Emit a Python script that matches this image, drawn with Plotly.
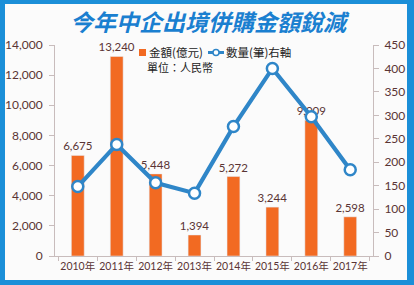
import plotly.graph_objects as go

years = ["2010年", "2011年", "2012年", "2013年", "2014年", "2015年", "2016年", "2017年"]
amounts = [6675, 13240, 5448, 1394, 5272, 3244, 9009, 2598]
counts = [148, 238, 156, 134, 276, 400, 297, 184]
amount_labels = ["6,675", "13,240", "5,448", "1,394", "5,272", "3,244", "9,009", "2,598"]
left_ticks = [0, 2000, 4000, 6000, 8000, 10000, 12000, 14000]
right_ticks = [0, 50, 100, 150, 200, 250, 300, 350, 400, 450]

W, H = 414, 285
ML, MR, MT, MB = 55, 41, 45, 29
PW, PH = W - ML - MR, H - MT - MB

def px(x):
    return (x - ML) / PW

def py(y):
    return (H - MB - y) / PH

txt = "#5a3434"
font = "Lato, 'Noto Sans CJK TC', sans-serif"
cjk = "'Noto Sans CJK TC', sans-serif"
blue = "#2f86c8"
orange = "#f26a22"

fig = go.Figure()
fig.add_trace(go.Bar(
    x=years, y=amounts, name="金額(億元)", marker_color=orange,
    width=0.33, text=amount_labels, textposition="outside", constraintext="none",
    textfont=dict(size=11.5, color=txt, family=font), cliponaxis=False,
    yaxis="y",
))
fig.add_trace(go.Scatter(
    x=years, y=counts, name="數量(筆)右軸", mode="lines+markers",
    line=dict(color=blue, width=4.2),
    marker=dict(size=11, color="white", line=dict(color=blue, width=2.5)),
    yaxis="y2", cliponaxis=False,
))

fig.update_layout(
    width=W, height=H,
    margin=dict(l=ML, r=MR, t=MT, b=MB, autoexpand=False),
    paper_bgcolor="#1b8fd8",
    plot_bgcolor="rgba(0,0,0,0)",
    font=dict(family=font, size=11, color=txt),
    showlegend=False,
    xaxis=dict(showgrid=False, showline=True, linecolor="#c8bcbc", linewidth=1,
               ticks="outside", ticklen=4, tickcolor="#c8bcbc", tickson="boundaries",
               tickangle=0, automargin=False,
               tickfont=dict(size=10.5, color=txt, family=font), fixedrange=True),
    yaxis=dict(range=[0, 14000], tickvals=left_ticks, tickformat=",", showgrid=False,
               showline=True, linecolor="#c8bcbc", ticks="outside", ticklen=5,
               automargin=False, ticklabelstandoff=4,
               tickcolor="#c8bcbc", tickfont=dict(size=12, color=txt), zeroline=False),
    yaxis2=dict(range=[0, 450], tickvals=right_ticks, overlaying="y", side="right",
                showgrid=False, showline=True, linecolor="#c8bcbc", ticks="outside",
                automargin=False, ticklabelstandoff=3,
                ticklen=5, tickcolor="#c8bcbc", tickfont=dict(size=12, color=txt),
                zeroline=False),
    shapes=[
        dict(type="rect", xref="paper", yref="paper", layer="below",
             x0=px(5), x1=px(407), y0=py(280), y1=py(4),
             fillcolor="#fbfbfb", line=dict(width=0)),
        dict(type="rect", xref="paper", yref="paper",
             x0=px(139), x1=px(146), y0=py(56), y1=py(49),
             fillcolor=orange, line=dict(width=0)),
        dict(type="line", xref="paper", yref="paper",
             x0=px(208), x1=px(224), y0=py(52.5), y1=py(52.5),
             line=dict(color=blue, width=3)),
        dict(type="circle", xref="paper", yref="paper",
             x0=px(213), x1=px(219), y0=py(55.5), y1=py(49.5),
             fillcolor="white", line=dict(color=blue, width=1.5)),
    ],
    annotations=[
        dict(text="<b><i>今年中企出境併購金額銳減</i></b>", xref="paper", yref="paper",
             x=px(210), y=py(21), xanchor="center", yanchor="middle", showarrow=False,
             font=dict(size=23, color="#1a7fd0", family=cjk)),
        dict(text="金額(億元)", xref="paper", yref="paper", x=px(147), y=py(52.5),
             xanchor="left", yanchor="middle", showarrow=False,
             font=dict(size=11.5, color="#222", family=cjk)),
        dict(text="數量(筆)右軸", xref="paper", yref="paper", x=px(224), y=py(52.5),
             xanchor="left", yanchor="middle", showarrow=False,
             font=dict(size=11.5, color="#222", family=cjk)),
        dict(text="單位：人民幣", xref="paper", yref="paper", x=px(145), y=py(67),
             xanchor="left", yanchor="middle", showarrow=False,
             font=dict(size=11, color="#222", family=cjk)),
    ],
)

fig.write_html("out.html")
